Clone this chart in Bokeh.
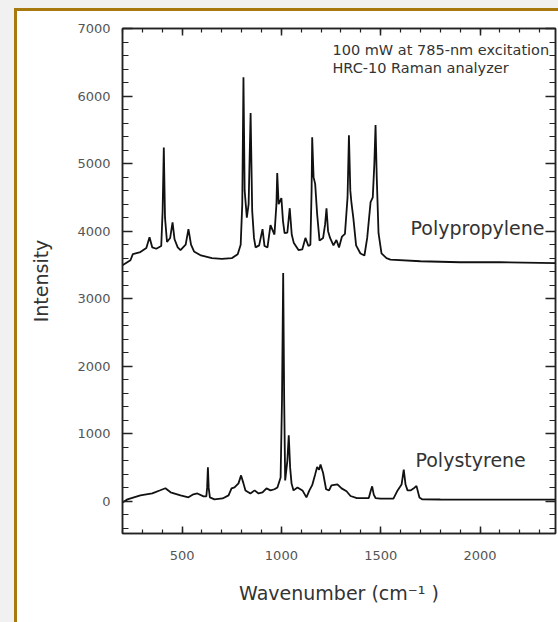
from bokeh.plotting import figure
from bokeh.models import Range1d, LinearAxis, FixedTicker, Label
from bokeh.layouts import column
from bokeh.embed import file_html
from bokeh.resources import INLINE

# ---- data ----
pp_wavenumber = [200, 240, 252, 290, 320, 336, 350, 370, 395, 402, 408, 414, 424, 440, 452, 462,
                 478, 492, 518, 532, 545, 560, 595, 650, 700, 750, 780, 795, 803, 809, 815, 826,
                 835, 845, 853, 862, 870, 888, 905, 915, 930, 945, 965, 975, 979, 986, 1000, 1008,
                 1016, 1030, 1042, 1052, 1062, 1086, 1105, 1121, 1136, 1146, 1152, 1155, 1162, 1170,
                 1180, 1192, 1210, 1220, 1227, 1235, 1245, 1262, 1277, 1290, 1305, 1320, 1333, 1340,
                 1347, 1353, 1362, 1376, 1398, 1418, 1432, 1449, 1460, 1468, 1474, 1480, 1489, 1504,
                 1529, 1549, 1700, 1900, 2100, 2400]
pp_intensity = [3495, 3569, 3660, 3690, 3750, 3910, 3760, 3740, 3780, 4300, 5240, 4200, 3840, 3900,
                4130, 3880, 3760, 3720, 3800, 4030, 3800, 3700, 3640, 3600, 3590, 3600, 3660, 3800,
                4400, 6280, 4600, 4200, 4400, 5750, 4300, 3900, 3760, 3790, 4030, 3780, 3760, 4090,
                3950, 4400, 4860, 4400, 4490, 4150, 3970, 3980, 4340, 3950, 3830, 3720, 3730, 3900,
                3780, 3800, 4600, 5390, 4800, 4700, 4250, 3860, 3900, 4100, 4340, 4000, 3900, 3790,
                3870, 3760, 3920, 3960, 4500, 5420, 4600, 4410, 4200, 3790, 3670, 3640, 3900, 4430,
                4500, 5000, 5570, 4800, 3970, 3670, 3600, 3580, 3555, 3540, 3540, 3525]

ps_wavenumber = [200, 225, 290, 350, 390, 416, 442, 492, 532, 557, 577, 608, 622, 626, 630, 634,
                 640, 663, 704, 734, 749, 764, 784, 797, 809, 819, 844, 865, 885, 905, 925, 945,
                 965, 980, 996, 1003, 1009, 1014, 1019, 1030, 1037, 1044, 1051, 1061, 1081, 1106,
                 1126, 1141, 1155, 1170, 1180, 1190, 1197, 1210, 1225, 1240, 1252, 1282, 1303, 1328,
                 1348, 1380, 1440, 1452, 1457, 1465, 1474, 1499, 1564, 1585, 1605, 1616, 1625, 1635,
                 1650, 1665, 1680, 1695, 1710, 1800, 2400]
ps_intensity = [-15, 30, 90, 120, 165, 195, 135, 90, 60, 105, 118, 74, 74, 200, 505, 200,
                59, 30, 44, 89, 193, 207, 267, 385, 267, 163, 118, 163, 118, 133, 193, 163,
                180, 207, 355, 1500, 3380, 1500, 311, 600, 977, 500, 267, 163, 207, 163,
                59, 163, 240, 400, 508, 470, 545, 420, 180, 163, 237, 252, 193, 150,
                80, 50, 50, 180, 222, 100, 50, 40, 40, 163, 250, 470, 250, 163,
                163, 190, 230, 59, 30, 28, 25]

x_major_ticks = [500, 1000, 1500, 2000]
y_major_ticks = [0, 1000, 2000, 3000, 4000, 5000, 6000, 7000]

FONT = "DejaVu Sans"

p = figure(width=541, height=611, x_range=Range1d(200, 2380), y_range=Range1d(-475, 7000),
           output_backend="svg", toolbar_location=None,
           min_border_left=105, min_border_right=3, min_border_top=17, min_border_bottom=89,
           x_axis_label="Wavenumber (cm⁻¹ )", y_axis_label="Intensity")
p.xgrid.visible = False
p.ygrid.visible = False
p.outline_line_color = "#222222"
p.outline_line_width = 1.5
p.background_fill_color = "white"
p.border_fill_color = "white"

x_ticker = FixedTicker(ticks=x_major_ticks, minor_ticks=list(range(200, 2400, 100)))
y_ticker = FixedTicker(ticks=y_major_ticks, minor_ticks=list(range(-400, 7001, 200)))

bottom_ax = p.below[0]
left_ax = p.left[0]
top_ax = LinearAxis(major_label_text_color=None, major_label_text_font_size="1px",
                    major_label_standoff=0)
right_ax = LinearAxis(major_label_text_color=None, major_label_text_font_size="1px",
                      major_label_standoff=0)
p.add_layout(top_ax, "above")
p.add_layout(right_ax, "right")

for ax in (bottom_ax, top_ax):
    ax.ticker = x_ticker
    ax.major_tick_in = 7
    ax.major_tick_out = 0
    ax.minor_tick_in = 4
    ax.minor_tick_out = 0
for ax in (left_ax, right_ax):
    ax.ticker = y_ticker
    ax.major_tick_in = 10
    ax.major_tick_out = 0
    ax.minor_tick_in = 6
    ax.minor_tick_out = 0

for ax in (bottom_ax, top_ax, left_ax, right_ax):
    ax.axis_line_color = "#222222"
    ax.axis_line_width = 1.5
    ax.major_tick_line_color = "#222222"
    ax.major_tick_line_width = 1.5
    ax.minor_tick_line_color = "#222222"
    ax.minor_tick_line_width = 1.2

for ax in (bottom_ax, left_ax):
    ax.major_label_text_font = FONT
    ax.major_label_text_font_size = "13px"
    ax.major_label_text_color = "#555555"
    ax.axis_label_text_font = FONT
    ax.axis_label_text_font_size = "19px"
    ax.axis_label_text_font_style = "normal"
    ax.axis_label_text_color = "#333333"

bottom_ax.major_label_standoff = 17
bottom_ax.axis_label_standoff = 19
left_ax.major_label_standoff = 12
left_ax.axis_label_standoff = 22

p.line(pp_wavenumber, pp_intensity, line_color="#111111", line_width=1.8)
p.line(ps_wavenumber, ps_intensity, line_color="#111111", line_width=1.8)

for x, y, t in [(1257, 6679, "100 mW at 785-nm excitation"),
                (1257, 6413, "HRC-10 Raman analyzer")]:
    p.add_layout(Label(x=x, y=y, text=t, text_font=FONT, text_font_size="14.5px",
                       text_baseline="middle", text_color="#333333"))

p.add_layout(Label(x=1650, y=4043, text="Polypropylene", text_font=FONT,
                   text_font_size="19px", text_baseline="alphabetic", text_color="#333333"))
p.add_layout(Label(x=1675, y=607, text="Polystyrene", text_font=FONT,
                   text_font_size="19px", text_baseline="alphabetic", text_color="#333333"))

inner = column(p, styles={"border-left": "3px solid #a8790f",
                          "border-top": "3px solid #a8790f",
                          "background-color": "white"})
outer = column(inner, styles={"padding-left": "14px", "padding-top": "8px",
                              "background-color": "#f1f1f1"})

open("out.html", "w").write(file_html(outer, INLINE))
